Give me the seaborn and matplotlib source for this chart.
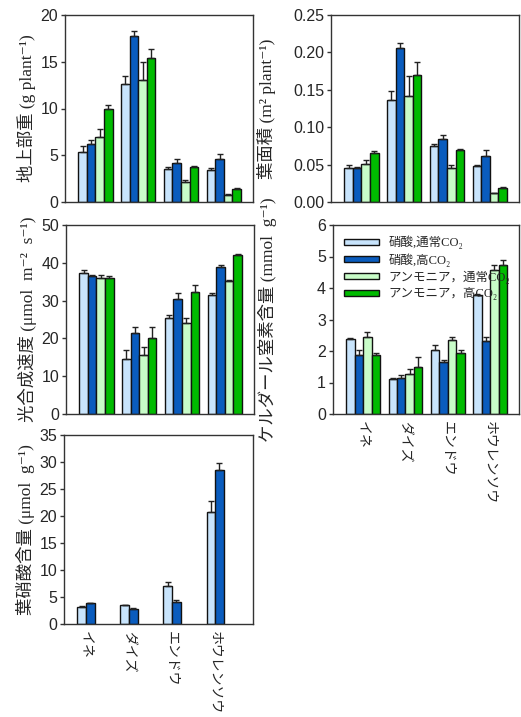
import seaborn as sns
import matplotlib.pyplot as plt
import pandas as pd
from matplotlib.patches import Patch

# crops and treatments
crops = ["イネ", "ダイズ", "エンドウ", "ホウレンソウ"]
treatments = ["硝酸,通常CO₂", "硝酸,高CO₂", "アンモニア，通常CO₂", "アンモニア，高CO₂"]
colors = ["#c8e4fc", "#0a5cbe", "#c8fcc8", "#00bb00"]

# values per crop, one list per treatment (same order as treatments)
shoot_wt = [[5.4, 12.65, 3.55, 3.4], [6.2, 17.75, 4.15, 4.6],
            [7.0, 13.0, 2.1, 0.8], [9.95, 15.45, 3.7, 1.4]]
shoot_wt_err = [[0.6, 0.85, 0.18, 0.2], [0.4, 0.57, 0.4, 0.5],
                [0.85, 2.0, 0.25, 0.05], [0.45, 0.95, 0.1, 0.05]]

leaf_area = [[0.045, 0.137, 0.075, 0.0475], [0.045, 0.2065, 0.084, 0.062],
             [0.0505, 0.142, 0.045, 0.012], [0.066, 0.170, 0.069, 0.0186]]
leaf_area_err = [[0.005, 0.012, 0.002, 0.0015], [0.002, 0.006, 0.006, 0.007],
                 [0.005, 0.026, 0.005, 0.0005], [0.002, 0.017, 0.002, 0.001]]

photo = [[37.3, 14.5, 25.4, 31.4], [36.4, 21.4, 30.3, 38.8],
         [35.9, 15.5, 24.0, 35.2], [35.9, 20.1, 32.2, 42.05]]
photo_err = [[0.9, 2.4, 0.9, 0.6], [0.3, 1.7, 1.7, 0.7],
             [0.8, 2.2, 1.3, 0.2], [0.6, 2.8, 2.0, 0.3]]

kjeldahl = [[2.38, 1.10, 2.04, 3.77], [1.86, 1.14, 1.66, 2.32],
            [2.44, 1.28, 2.36, 4.58], [1.88, 1.50, 1.94, 4.74]]
kjeldahl_err = [[0.03, 0.04, 0.14, 0.05], [0.16, 0.09, 0.05, 0.12],
                [0.16, 0.16, 0.08, 0.14], [0.06, 0.30, 0.08, 0.16]]

# leaf nitrate: only the nitrate treatments
nitrate = [[3.2, 3.5, 7.0, 20.8], [3.83, 2.85, 4.1, 28.5]]
nitrate_err = [[0.1, 0.1, 0.75, 2.0], [0.12, 0.05, 0.3, 1.4]]

label_font = ["Liberation Serif", "Noto Sans CJK JP", "DejaVu Serif"]
tick_font = ["Liberation Sans", "Noto Sans CJK JP", "DejaVu Sans"]

sns.set_style("ticks")
plt.rcParams["font.family"] = tick_font
plt.rcParams["axes.edgecolor"] = "#333333"
plt.rcParams["axes.linewidth"] = 1.0

W, H = 521, 717
fig = plt.figure(figsize=(W / 100, H / 100), dpi=100)


def add_ax(left, right, top, bottom):
    return fig.add_axes([left / W, (H - bottom) / H, (right - left) / W, (bottom - top) / H])


def bar_panel(ax, vals, errs, ylabel, ymax, ystep, fmt="{:.0f}", xlabels=False,
              xlim=(-0.71, 3.68), ysize=12.5):
    n = len(vals)
    rows = []
    for t, series, es in zip(treatments[:n], vals, errs):
        for c, v, e in zip(crops, series, es):
            rows.append({"crop": c, "treat": t, "value": v, "err": e})
    df = pd.DataFrame(rows)
    sns.barplot(data=df, x="crop", y="value", hue="treat", order=crops,
                hue_order=treatments[:n], palette=colors[:n], errorbar=None,
                width=0.2 * n, saturation=1, edgecolor="#111111", linewidth=1.0,
                legend=False, ax=ax)
    # upward-only error bars
    for cont, t in zip(ax.containers, treatments[:n]):
        sub = df[df["treat"] == t].set_index("crop").loc[crops]
        xs = [b.get_x() + b.get_width() / 2 for b in cont]
        hs = [b.get_height() for b in cont]
        ax.errorbar(xs, hs, yerr=[[0] * len(xs), sub["err"].values], fmt="none",
                    ecolor="#222222", elinewidth=1.0, capsize=2.3, capthick=1.0, zorder=3)
    ax.set_xlim(*xlim)
    ax.set_ylim(0, ymax)
    ticks = [i * ystep for i in range(int(round(ymax / ystep)) + 1)]
    ax.set_yticks(ticks)
    ax.set_yticklabels([fmt.format(t) for t in ticks], fontsize=11.5)
    ax.tick_params(axis="y", length=3, width=1, color="#333333", pad=2)
    ax.tick_params(axis="x", length=0, pad=5)
    ax.set_xlabel("")
    ax.set_ylabel(ylabel, family=label_font, fontsize=ysize, labelpad=3)
    if xlabels:
        ax.set_xticks(range(len(crops)))
        ax.set_xticklabels(crops, rotation=270, fontsize=10,
                           family=["Noto Sans CJK JP", "DejaVu Sans"])
    else:
        ax.set_xticklabels([])
    for s in ax.spines.values():
        s.set_visible(True)


ax1 = add_ax(65, 253, 15, 202)
bar_panel(ax1, shoot_wt, shoot_wt_err, "地上部重 (g plant⁻¹)", 20, 5)

ax2 = add_ax(331, 519, 15, 202)
bar_panel(ax2, leaf_area, leaf_area_err, "葉面積 (m² plant⁻¹)", 0.25, 0.05, fmt="{:.2f}")
ax2.yaxis.set_label_coords(-0.29, 0.5)

ax3 = add_ax(66, 254, 225, 414)
bar_panel(ax3, photo, photo_err, "光合成速度 (μmol  m⁻²  s⁻¹)", 50, 10)

ax4 = add_ax(333, 519, 225, 414)
bar_panel(ax4, kjeldahl, kjeldahl_err, "ケルダール窒素含量 (mmol  g⁻¹)", 6, 1, xlabels=True,
          ysize=12.5)
ax4.yaxis.set_label_coords(-0.30, 0.5)

ax5 = add_ax(64, 253, 435, 624)
bar_panel(ax5, nitrate, nitrate_err, "葉硝酸含量 (μmol  g⁻¹)", 35, 5, xlabels=True,
          xlim=(-0.51, 3.88))

handles = [Patch(facecolor=c, edgecolor="#111111", linewidth=1.0) for c in colors]
ax4.legend(handles, treatments, loc="upper left", bbox_to_anchor=(0.01, 0.99),
           frameon=False, handlelength=2.8, handleheight=0.4, labelspacing=0.3,
           handletextpad=0.8, borderaxespad=0.3,
           prop={"family": label_font, "size": 9})

fig.savefig("out.png", dpi=100)
